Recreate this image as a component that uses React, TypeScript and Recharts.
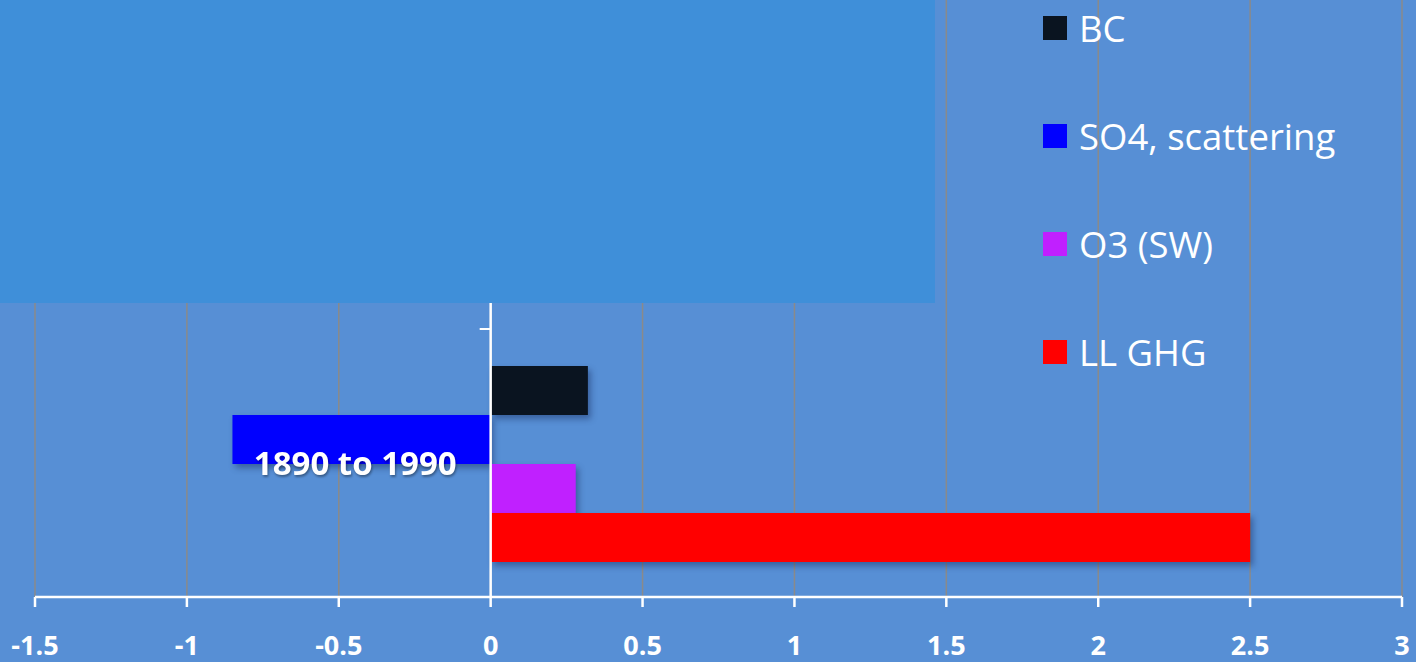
import React from "react";
import {
    BarChart,
    Bar,
    XAxis,
    YAxis,
    CartesianGrid,
    Legend,
    ReferenceLine,
} from "recharts";

// forcing periods; only the last one sits in the visible part of the plot
const periods = ["", " ", "1890 to 1990"];
const bcValues = [null, null, 0.32];
const so4Values = [null, null, -0.85];
const o3Values = [null, null, 0.28];
const ghgValues = [null, null, 2.5];
const xTicks = [-1.5, -1, -0.5, 0, 0.5, 1, 1.5, 2, 2.5, 3];

const data = periods.map((period, i) => ({
    period,
    bc: bcValues[i],
    so4: so4Values[i],
    o3: o3Values[i],
    ghg: ghgValues[i],
}));

const WIDTH = 1416;
const HEIGHT = 662;
const MARGIN = { top: -207, right: 14, bottom: 0, left: 34 };
const Y_AXIS_W = 1;
const X_AXIS_H = 65;
const X_MIN = -1.5;
const X_MAX = 3;
const PLOT_LEFT = MARGIN.left + Y_AXIS_W;
const PLOT_W = WIDTH - PLOT_LEFT - MARGIN.right;
const PLOT_H = HEIGHT - MARGIN.top - MARGIN.bottom - X_AXIS_H;
const ZERO_X = PLOT_LEFT + ((0 - X_MIN) / (X_MAX - X_MIN)) * PLOT_W;
const BAND = PLOT_H / periods.length;

const FONT = "'Open Sans', 'DejaVu Sans', sans-serif";
const BG = "#578fd5";

const renderPeriodTick = (props: any) => {
    const { y, payload } = props;
    return (
        <g>
            <line x1={ZERO_X - 11} x2={ZERO_X} y1={y - BAND / 2} y2={y - BAND / 2} stroke="#ffffff" strokeWidth={2} />
            <text
                x={ZERO_X - 34}
                y={y}
                dy="0.35em"
                textAnchor="end"
                fill="#ffffff"
                fontFamily={FONT}
                fontWeight={700}
                fontSize={33}
                style={{ filter: "drop-shadow(1px 2px 1px rgba(0,0,0,0.35))" }}
            >
                {payload.value}
            </text>
        </g>
    );
};

const ShadowBar = ({ x, y, width, height, fill }: any) => {
    if (!width || !height) return null;
    const w = Math.abs(width);
    const left = width < 0 ? x + width : x;
    return (
        <rect
            x={left}
            y={y}
            width={w}
            height={height}
            fill={fill}
            style={{ filter: "drop-shadow(3px 4px 3px rgba(20,40,90,0.45))" }}
        />
    );
};

const legendOrder = ["BC", "SO4, scattering", "O3 (SW)", "LL GHG"];

const LegendList = ({ payload }: any) => {
    const items = [...(payload || [])].sort(
        (a: any, b: any) => legendOrder.indexOf(a.value) - legendOrder.indexOf(b.value)
    );
    return (
        <div style={{ fontFamily: FONT }}>
            {items.map((item: any) => (
                <div key={item.value} style={{ display: "flex", alignItems: "center", height: 108 }}>
                    <span style={{ width: 24, height: 24, background: item.color, marginRight: 12 }} />
                    <span style={{ color: "#ffffff", fontSize: 36.5, lineHeight: "40px" }}>{item.value}</span>
                </div>
            ))}
        </div>
    );
};

export default function App() {
    return (
        <div style={{ position: "absolute", left: 0, top: 0, width: WIDTH, height: HEIGHT, background: BG, overflow: "hidden" }}>
            <BarChart
                width={WIDTH}
                height={HEIGHT}
                data={data}
                layout="vertical"
                margin={MARGIN}
                barCategoryGap={37}
                barGap={0}
            >
                <CartesianGrid horizontal={false} stroke="#8a8a8a" strokeWidth={1.5} />
                <XAxis
                    type="number"
                    domain={[X_MIN, X_MAX]}
                    ticks={xTicks}
                    height={X_AXIS_H}
                    axisLine={{ stroke: "#ffffff", strokeWidth: 2.5 }}
                    tickLine={{ stroke: "#ffffff", strokeWidth: 2.5 }}
                    tickSize={10}
                    tickMargin={29}
                    tick={{ fill: "#ffffff", fontSize: 27, fontWeight: 700, fontFamily: FONT }}
                    interval={0}
                    allowDataOverflow
                />
                <Bar dataKey="bc" name="BC" fill="#0a1420" shape={ShadowBar} isAnimationActive={false} />
                <Bar dataKey="so4" name="SO4, scattering" fill="#0000ff" shape={ShadowBar} isAnimationActive={false} />
                <Bar dataKey="o3" name="O3 (SW)" fill="#c020ff" shape={ShadowBar} isAnimationActive={false} />
                <Bar dataKey="ghg" name="LL GHG" fill="#ff0000" shape={ShadowBar} isAnimationActive={false} />
                <ReferenceLine x={0} stroke="#ffffff" strokeWidth={2.5} />
                <YAxis
                    type="category"
                    dataKey="period"
                    width={Y_AXIS_W}
                    axisLine={false}
                    tickLine={false}
                    tick={renderPeriodTick}
                    interval={0}
                />
                <Legend
                    layout="vertical"
                    align="center"
                    verticalAlign="middle"
                    content={<LegendList />}
                    wrapperStyle={{ left: 1043, top: -26, width: 360 }}
                />
            </BarChart>
            {/* panel covering the upper left of the plot */}
            <div style={{ position: "absolute", left: 0, top: 0, width: 935, height: 303, background: "#3f8fd9" }} />
        </div>
    );
}
